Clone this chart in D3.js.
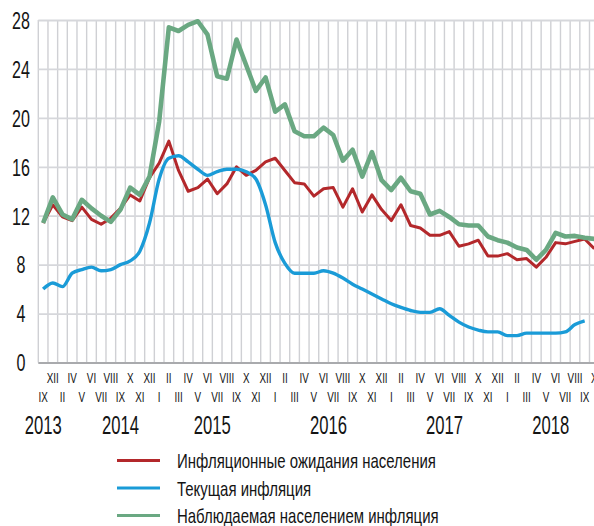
<!DOCTYPE html>
<html><head><meta charset="utf-8">
<script src="https://cdn.jsdelivr.net/npm/d3@7"></script>
<style>
html,body{margin:0;padding:0;background:#fff;}
svg{display:block;}
text{font-family:"Liberation Sans",Arial,sans-serif;fill:#141414;}
</style></head><body>
<svg id="chart" width="594" height="526"></svg>
<script>
// ---- data ----
const periods = [
  "IX 2013","XII 2013",
  "II 2014","IV 2014","V 2014","VI 2014","VII 2014","VIII 2014","IX 2014","X 2014","XI 2014","XII 2014",
  "I 2015","II 2015","III 2015","IV 2015","V 2015","VI 2015","VII 2015","VIII 2015","IX 2015","X 2015","XI 2015","XII 2015",
  "I 2016","II 2016","III 2016","IV 2016","V 2016","VI 2016","VII 2016","VIII 2016","IX 2016","X 2016","XI 2016","XII 2016",
  "I 2017","II 2017","III 2017","IV 2017","V 2017","VI 2017","VII 2017","VIII 2017","IX 2017","X 2017","XI 2017","XII 2017",
  "I 2018","II 2018","III 2018","IV 2018","V 2018","VI 2018","VII 2018","VIII 2018","IX 2018","X 2018"
];
// Инфляционные ожидания населения
const expectations = [
  11.4, 12.9,
  11.9, 11.6, 12.7, 11.7, 11.3, 11.8, 12.6, 13.7, 13.2, 15.1,
  16.3, 18.1, 15.7, 14.0, 14.3, 15.0, 13.8, 14.6, 16.0, 15.3, 15.7, 16.4,
  16.7, 15.7, 14.7, 14.6, 13.6, 14.2, 14.3, 12.7, 14.2, 12.3, 13.7, 12.5,
  11.6, 12.9, 11.2, 11.0, 10.4, 10.4, 10.7, 9.5, 9.7, 10.0, 8.7, 8.7,
  8.9, 8.4, 8.5, 7.8, 8.6, 9.8, 9.7, 9.9, 10.1, 9.3
];
// Текущая инфляция
const currentInflation = [
  6.0, 6.5,
  6.2, 7.3, 7.6, 7.8, 7.5, 7.6, 8.0, 8.3, 9.1, 11.4,
  15.0, 16.7, 16.9, 16.4, 15.8, 15.3, 15.6, 15.8, 15.8, 15.6, 15.0, 12.9,
  9.8, 8.1, 7.3, 7.3, 7.3, 7.5, 7.3, 6.9, 6.4, 6.0, 5.6, 5.2,
  4.8, 4.5, 4.25, 4.1, 4.1, 4.4, 3.85, 3.3, 2.9, 2.65, 2.5, 2.5,
  2.2, 2.2, 2.4, 2.4, 2.4, 2.4, 2.5, 3.1, 3.4, null
];
// Наблюдаемая населением инфляция
const perceived = [
  11.4, 13.5,
  12.1, 11.7, 13.3, 12.6, 12.0, 11.5, 12.5, 14.3, 13.7, 15.2,
  19.7, 27.4, 27.1, 27.6, 27.9, 26.8, 23.4, 23.2, 26.4, 24.3, 22.2, 23.3,
  20.5, 21.1, 18.9, 18.5, 18.5, 19.2, 18.6, 16.5, 17.4, 15.2, 17.2, 14.9,
  14.1, 15.1, 14.0, 13.8, 12.1, 12.4, 11.9, 11.3, 11.2, 11.2, 10.3, 10.0,
  9.8, 9.4, 9.2, 8.4, 9.2, 10.6, 10.3, 10.35, 10.2, 10.1
];
const yTicks = [0, 4, 8, 12, 16, 20, 24, 28];
const yearLabels = [
  {year: "2013", from: "IX 2013", to: "IX 2013"},
  {year: "2014", from: "IX 2014", to: "IX 2014"},
  {year: "2015", from: "VI 2015", to: "VII 2015"},
  {year: "2016", from: "VI 2016", to: "VII 2016"},
  {year: "2017", from: "VI 2017", to: "VII 2017"},
  {year: "2018", from: "V 2018", to: "VI 2018"}
];
const seriesNames = ["Инфляционные ожидания населения", "Текущая инфляция", "Наблюдаемая населением инфляция"];
const seriesColors = ["#b3282b", "#1a9bd7", "#6aa882"];
const seriesWidths = [3, 3.4, 4.6];

// ---- layout ----
const svg = d3.select("#chart");
const left = 38.3, step = 9.67;
const x = d3.scaleBand().domain(periods).range([left, left + periods.length * step]).padding(0);
const cx = p => x(p) + x.bandwidth() / 2;
const y = d3.scaleLinear().domain([0, 28]).range([362.5, 20]);

// vertical grid at band boundaries
const bounds = periods.map(p => x(p)).concat([x.range()[1]]);
svg.append("g").selectAll("line").data(bounds).join("line")
  .attr("x1", d => d).attr("x2", d => d)
  .attr("y1", y(28)).attr("y2", y(0))
  .attr("stroke", "#cfd0d4").attr("stroke-width", 1.4);

// y axis + horizontal grid
const gy = svg.append("g").attr("transform", `translate(${left},0)`)
  .call(d3.axisLeft(y).tickValues(yTicks).tickSize(-700).tickFormat(d3.format("d")));
gy.select(".domain").remove();
gy.selectAll(".tick line")
  .attr("stroke", d => d === 0 ? "#a9aaad" : "#d6d7db")
  .attr("stroke-width", d => d === 0 ? 2.2 : 1.8);
gy.selectAll(".tick text")
  .attr("x", null).attr("dy", null)
  .attr("text-anchor", "middle")
  .attr("transform", `translate(${21 - left},8.3) scale(0.67,1)`)
  .style("font-size", "24px").style("fill", "#141414");

// x axis month labels
const gx = svg.append("g").attr("transform", `translate(0,${y(0)})`)
  .call(d3.axisBottom(x).tickSize(0).tickFormat(p => p.split(" ")[0]));
gx.select(".domain").remove();
gx.selectAll(".tick text")
  .attr("y", null).attr("dy", null)
  .attr("text-anchor", "middle")
  .attr("transform", (p) => {
    const i = periods.indexOf(p);
    const base = (i % 2 === 1 ? 382.7 : 401.7) - y(0);
    return `translate(0,${base}) scale(0.68,1)`;
  })
  .style("font-size", "14.5px").style("fill", "#141414");

// year labels
svg.append("g").selectAll("text").data(yearLabels).join("text")
  .attr("text-anchor", "middle")
  .attr("transform", d => `translate(${(cx(d.from) + cx(d.to)) / 2},434) scale(0.64,1)`)
  .style("font-size", "26px")
  .text(d => d.year);

// lines
const allSeries = [expectations, currentInflation, perceived];
const curves = [d3.curveLinear, d3.curveMonotoneX, d3.curveLinear];
allSeries.forEach((vals, k) => {
  const line = d3.line()
    .defined(d => d != null)
    .x((d, i) => cx(periods[i]))
    .y(d => y(d))
    .curve(curves[k]);
  svg.append("path").datum(vals)
    .attr("fill", "none")
    .attr("stroke", seriesColors[k])
    .attr("stroke-width", seriesWidths[k])
    .attr("stroke-linejoin", "round")
    .attr("d", line);
});

// legend
const lg = svg.append("g");
seriesNames.forEach((name, k) => {
  const by = 468 + k * 27.5;
  lg.append("line").attr("x1", 117).attr("x2", 160)
    .attr("y1", by - 7.5).attr("y2", by - 7.5)
    .attr("stroke", seriesColors[k]).attr("stroke-width", 3);
  lg.append("text")
    .attr("transform", `translate(177,${by}) scale(0.73,1)`)
    .style("font-size", "20.5px")
    .text(name);
});
</script>
</body></html>
